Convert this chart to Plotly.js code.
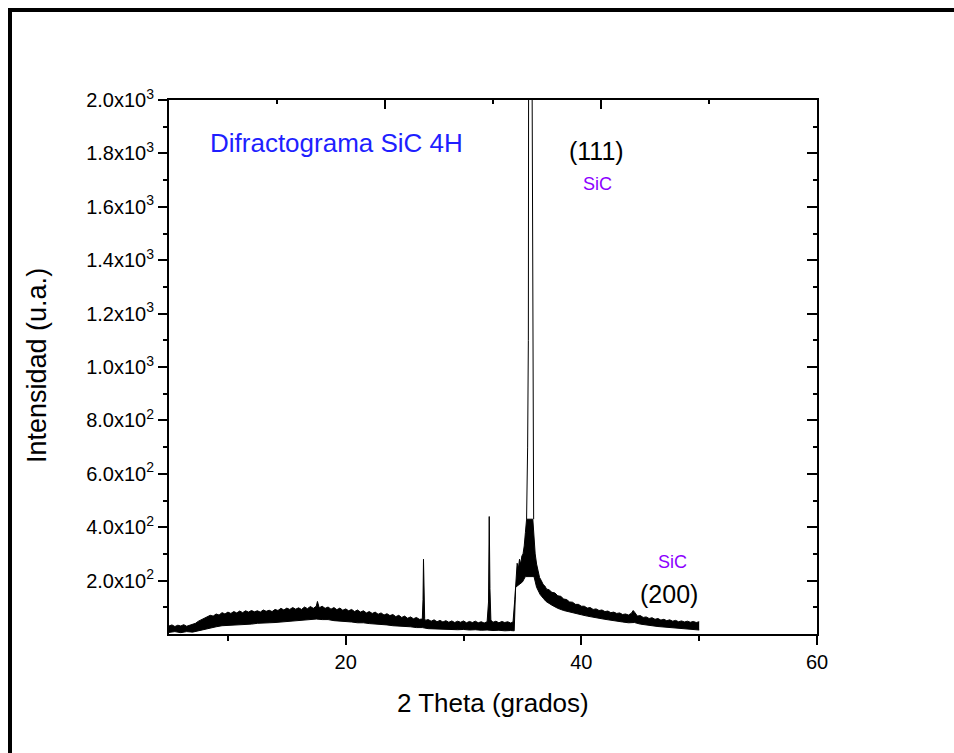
<!DOCTYPE html>
<html>
<head>
<meta charset="utf-8">
<script src="https://cdn.plot.ly/plotly-3.0.1.min.js"></script>
<style>
  html, body { margin: 0; padding: 0; background: #fff; overflow: hidden; }
  #wrap { position: relative; width: 954px; height: 753px; }
  #chart { position: absolute; left: 0; top: 0; width: 954px; height: 753px; }
  #frame { position: absolute; left: 8px; top: 8px; width: 950px; height: 750px;
           border-left: 4px solid #000; border-top: 4px solid #000; pointer-events: none; }
</style>
</head>
<body>
<div id="wrap">
  <div id="chart"></div>
  <div id="frame"></div>
</div>
<script>
// Upper edge of the noisy diffraction band (2θ in degrees, intensity)
const upperX = [5.00,5.25,5.50,5.75,6.00,6.25,6.50,6.75,7.00,7.25,7.50,7.75,8.00,8.25,8.50,8.75,9.00,9.25,9.50,9.75,
  10.00,10.25,10.50,10.75,11.00,11.25,11.50,11.75,12.00,12.25,12.50,12.75,13.00,13.25,13.50,13.75,14.00,14.25,14.50,14.75,
  15.00,15.25,15.50,15.75,16.00,16.25,16.50,16.75,17.00,17.25,17.50,17.60,17.70,17.75,18.00,18.25,18.50,18.75,19.00,19.25,
  19.50,19.75,20.00,20.25,20.50,20.75,21.00,21.25,21.50,21.75,22.00,22.25,22.50,22.75,23.00,23.25,23.50,23.75,24.00,24.25,
  24.50,24.75,25.00,25.25,25.50,25.75,26.00,26.25,26.50,26.56,26.60,26.64,26.70,26.75,27.00,27.25,27.50,27.75,28.00,28.25,
  28.50,28.75,29.00,29.25,29.50,29.75,30.00,30.25,30.50,30.75,31.00,31.25,31.50,31.75,32.00,32.12,32.18,32.24,32.32,32.50,
  32.75,33.00,33.25,33.50,33.75,34.00,34.20,34.35,34.45,34.55,34.65,34.75,34.85,34.95,35.05,35.15,35.25,35.35,35.88,35.98,
  36.08,36.20,36.32,36.45,36.60,36.75,36.90,37.05,37.25,37.50,37.75,38.00,38.25,38.50,38.75,39.00,39.25,39.50,39.75,40.00,40.25,
  40.50,40.75,41.00,41.25,41.50,41.75,42.00,42.25,42.50,42.75,43.00,43.25,43.50,43.75,44.00,44.25,44.40,44.55,44.75,45.00,
  45.25,45.50,45.75,46.00,46.25,46.50,46.75,47.00,47.25,47.50,47.75,48.00,48.25,48.50,48.75,49.00,49.25,49.50,49.75,50.00];
const upperY = [30,34,28,33,30,35,29,33,36,40,48,53,60,63,70,67,75,71,80,75,
  82,77,84,79,86,80,87,82,88,83,87,82,90,85,89,84,92,88,96,90,
  97,92,99,93,98,92,101,95,103,96,104,122,101,98,104,96,101,93,99,91,
  97,89,94,87,92,84,90,82,87,79,84,77,82,74,79,71,76,69,73,65,
  70,62,67,59,64,57,62,55,56,130,280,150,58,51,54,48,53,46,51,45,
  50,44,49,43,48,44,49,42,47,43,48,42,46,41,46,120,440,170,52,44,
  48,42,47,43,46,41,45,130,225,265,245,280,262,292,300,330,380,430,430,360,
  300,262,232,212,200,186,180,168,166,156,154,143,141,131,129,120,119,111,111,104,104,
  97,99,92,94,88,90,84,86,80,82,77,79,73,75,71,78,88,80,67,69,
  62,64,58,61,55,58,52,55,50,53,48,51,46,49,45,48,44,47,43,46];

// Lower edge of the noisy band
const lowerX = [5.0,5.5,6.0,6.5,7.0,7.5,8.0,8.5,9.0,9.5,10.0,10.5,11.0,11.5,12.0,12.5,13.0,13.5,14.0,14.5,
  15.0,15.5,16.0,16.5,17.0,17.5,18.0,18.5,19.0,19.5,20.0,20.5,21.0,21.5,22.0,22.5,23.0,23.5,24.0,24.5,
  25.0,25.5,26.0,26.5,27.0,27.5,28.0,28.5,29.0,29.5,30.0,30.5,31.0,31.5,32.0,32.5,33.0,33.5,34.0,34.3,
  34.42,34.7,35.0,35.25,35.98,36.2,36.5,36.8,37.0,37.5,38.0,38.5,39.0,39.5,40.0,40.5,41.0,41.5,42.0,42.5,
  43.0,43.5,44.0,44.5,45.0,45.5,46.0,46.5,47.0,47.5,48.0,48.5,49.0,49.5,50.0];
const lowerY = [6,9,5,9,7,12,18,24,27,31,32,34,34,37,37,40,40,42,43,45,
  46,49,50,53,53,56,54,54,50,49,46,45,42,42,39,38,35,34,31,30,
  27,27,24,24,20,19,19,17,18,16,17,15,16,14,15,13,14,12,13,12,
  175,185,195,215,215,175,148,132,122,108,96,88,82,76,72,67,62,59,55,51,
  48,45,42,43,37,33,31,28,26,24,22,20,18,17,15];

// Sharp SiC (111) reflection (goes above the 2000 axis limit)
const peakX = [35.35,35.44,35.50,35.56,35.68,35.80,35.86,35.91,35.95];
const peakY = [430,700,1100,2300,9000,2300,1100,680,430];

// Axis ticks
const yTickVals = [200,400,600,800,1000,1200,1400,1600,1800,2000];
const yTickText = ['2.0x10<sup>2</sup>','4.0x10<sup>2</sup>','6.0x10<sup>2</sup>','8.0x10<sup>2</sup>',
  '1.0x10<sup>3</sup>','1.2x10<sup>3</sup>','1.4x10<sup>3</sup>','1.6x10<sup>3</sup>','1.8x10<sup>3</sup>','2.0x10<sup>3</sup>'];
const xTickVals = [20,40,60];
const xTickText = ['20','40','60'];

const FONT = 'Liberation Sans, Arial, Helvetica, sans-serif';

const traces = [
  { x: lowerX, y: lowerY, type: 'scatter', mode: 'lines', line: { color: '#000', width: 1 }, hoverinfo: 'skip', showlegend: false },
  { x: upperX, y: upperY, type: 'scatter', mode: 'lines', fill: 'tonexty', fillcolor: '#000', line: { color: '#000', width: 1 }, hoverinfo: 'skip', showlegend: false },
  { x: peakX, y: peakY, type: 'scatter', mode: 'lines', line: { color: '#000', width: 1 }, hoverinfo: 'skip', showlegend: false },
  { x: [], y: [], type: 'scatter', mode: 'lines', xaxis: 'x2', yaxis: 'y2', hoverinfo: 'skip', showlegend: false }
];

const layout = {
  width: 954, height: 753,
  margin: { l: 169, r: 137, t: 100, b: 119, pad: 0 },
  paper_bgcolor: '#fff', plot_bgcolor: '#fff',
  showlegend: false,
  font: { family: FONT, color: '#000', size: 20 },
  xaxis: {
    range: [5, 60], autorange: false,
    tickmode: 'array', tickvals: xTickVals, ticktext: xTickText,
    ticks: 'outside', ticklen: 9, tickwidth: 2, tickcolor: '#000',
    minor: { tickmode: 'array', tickvals: [10, 30, 50], ticks: 'outside', ticklen: 5, tickwidth: 2, tickcolor: '#000' },
    showline: true, linecolor: '#000', linewidth: 2,
    showgrid: false, zeroline: false,
    tickfont: { family: FONT, size: 20, color: '#000' }
  },
  yaxis: {
    range: [0, 2000], autorange: false,
    tickmode: 'array', tickvals: yTickVals, ticktext: yTickText,
    ticks: 'outside', ticklen: 9, tickwidth: 2, tickcolor: '#000',
    minor: { tickmode: 'linear', tick0: 100, dtick: 200, ticks: 'outside', ticklen: 4, tickwidth: 2, tickcolor: '#000' },
    showline: true, linecolor: '#000', linewidth: 2,
    showgrid: false, zeroline: false,
    tickfont: { family: FONT, size: 20, color: '#000' }
  },
  xaxis2: {
    overlaying: 'x', side: 'top', anchor: 'y',
    range: [0, 6], autorange: false,
    tickmode: 'array', tickvals: [2, 4], ticks: 'inside', ticklen: 9, tickwidth: 2, tickcolor: '#000',
    minor: { tickmode: 'array', tickvals: [1, 3, 5], ticks: 'inside', ticklen: 4, tickwidth: 2, tickcolor: '#000' },
    showticklabels: false, showline: true, linecolor: '#000', linewidth: 2,
    showgrid: false, zeroline: false
  },
  yaxis2: {
    overlaying: 'y', side: 'right', anchor: 'x',
    range: [0, 2000], autorange: false,
    tickmode: 'array', tickvals: yTickVals, ticks: 'inside', ticklen: 10, tickwidth: 2, tickcolor: '#000',
    minor: { tickmode: 'linear', tick0: 100, dtick: 200, ticks: 'inside', ticklen: 4, tickwidth: 2, tickcolor: '#000' },
    showticklabels: false, showline: true, linecolor: '#000', linewidth: 2,
    showgrid: false, zeroline: false
  },
  annotations: [
    { xref: 'paper', yref: 'paper', x: (493 - 169) / 648, y: -(703 - 634) / 534, xanchor: 'center', yanchor: 'middle',
      text: '2 Theta (grados)', showarrow: false, font: { family: FONT, size: 26, color: '#000' } },
    { xref: 'paper', yref: 'paper', x: (37 - 169) / 648, y: (634 - 366) / 534, xanchor: 'center', yanchor: 'middle',
      text: 'Intensidad (u.a.)', textangle: -90, showarrow: false, font: { family: FONT, size: 27, color: '#000' } },
    { xref: 'x', yref: 'y', x: 19.2, y: 1839, xanchor: 'center', yanchor: 'middle',
      text: 'Difractograma SiC 4H', showarrow: false, font: { family: FONT, size: 26, color: '#1f1fff' } },
    { xref: 'x', yref: 'y', x: 41.3, y: 1809, xanchor: 'center', yanchor: 'middle',
      text: '(111)', showarrow: false, font: { family: FONT, size: 25, color: '#000' } },
    { xref: 'x', yref: 'y', x: 41.4, y: 1686, xanchor: 'center', yanchor: 'middle',
      text: 'SiC', showarrow: false, font: { family: FONT, size: 18, color: '#8c00ff' } },
    { xref: 'x', yref: 'y', x: 47.7, y: 271, xanchor: 'center', yanchor: 'middle',
      text: 'SiC', showarrow: false, font: { family: FONT, size: 18, color: '#8c00ff' } },
    { xref: 'x', yref: 'y', x: 47.4, y: 151, xanchor: 'center', yanchor: 'middle',
      text: '(200)', showarrow: false, font: { family: FONT, size: 25, color: '#000' } }
  ],
  hovermode: false
};

Plotly.newPlot('chart', traces, layout, { displayModeBar: false, staticPlot: true });
</script>
</body>
</html>
